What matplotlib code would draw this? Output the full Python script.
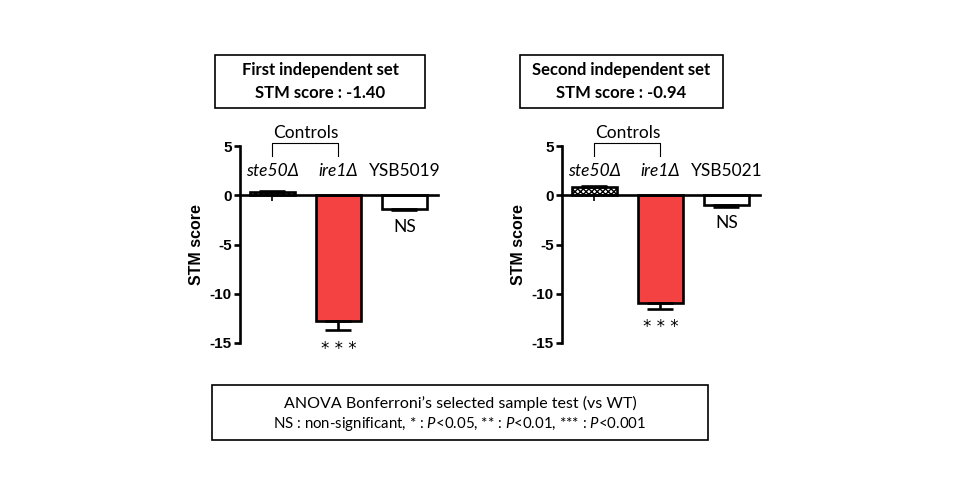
import numpy as np
import matplotlib
matplotlib.use("Agg")
import matplotlib.pyplot as plt
from matplotlib.patches import Rectangle

plt.rcParams['font.family'] = ['Lato', 'DejaVu Sans']
plt.rcParams['mathtext.fontset'] = 'custom'
plt.rcParams['mathtext.rm'] = 'Lato'
plt.rcParams['mathtext.it'] = 'Lato:italic'
plt.rcParams['hatch.linewidth'] = 1.0

# data
strains1 = ['ste50Δ', 'ire1Δ', 'YSB5019']
scores1 = [0.35, -12.8, -1.38]
errs1 = [0.1, 0.9, 0.15]
strains2 = ['ste50Δ', 'ire1Δ', 'YSB5021']
scores2 = [0.8, -10.9, -1.0]
errs2 = [0.12, 0.6, 0.15]
signif = ['', '* * *', 'NS']
italic = [True, True, False]
titles = ['First independent set\nSTM score : -1.40',
          'Second independent set\nSTM score : -0.94']
yticks = [5, 0, -5, -10, -15]

W, H = 960, 500
fig = plt.figure(figsize=(9.6, 5), dpi=100)

def fx(x):
    return x / W

def fy(y):
    return 1 - y / H

#Panels
panels = [(240, 438, 146, 343, strains1, scores1, errs1),
          (562, 760, 146, 343, strains2, scores2, errs2)]

for x0, x1, yt, yb, strains, scores, errs in panels:
    ax = fig.add_axes([fx(x0), fy(yb), fx(x1) - fx(x0), fy(yt) - fy(yb)])
    pos = np.arange(len(strains))
    colors = ['white', '#F44242', 'white']
    hatches = ['xxxxxx', None, None]
    for i in pos:
        ax.bar(i, scores[i], width=0.68, color=colors[i], edgecolor='black',
               linewidth=1.9, hatch=hatches[i], zorder=2)
        lo = errs[i] if scores[i] < 0 else 0
        hi = errs[i] if scores[i] > 0 else 0
        ax.errorbar(i, scores[i], yerr=[[lo], [hi]], fmt='none', ecolor='black',
                    elinewidth=1.9, capsize=9.5, capthick=1.9, zorder=3)
        # category label
        ax.text(i, 2.5, strains[i], ha='center', va='center', fontsize=12.5,
                style='italic' if italic[i] else 'normal')
    # significance marks
    ax.text(1, scores[1] - errs[1] - 1.9, signif[1], ha='center', va='center',
            fontsize=12, family='DejaVu Sans', clip_on=False)
    ax.text(2, scores[2] - errs[2] - 1.7, signif[2], ha='center', va='center',
            fontsize=12.5, clip_on=False)

    #Controls bracket
    ax.plot([0, 0, 1, 1], [4.0, 5.35, 5.35, 4.0], color='black', lw=0.8,
            clip_on=False)
    ax.text(0.5, 6.3, 'Controls', ha='center', va='center', fontsize=12.5)

    ax.set_xlim(-0.49, 2.51)
    ax.set_ylim(-15, 5)
    ax.set_yticks(yticks)
    ax.set_yticklabels([str(t) for t in yticks], family='Liberation Sans',
                       fontweight='bold', fontsize=11)
    ax.set_xticks(pos)
    ax.set_xticklabels([])
    ax.spines['top'].set_visible(False)
    ax.spines['right'].set_visible(False)
    ax.spines['bottom'].set_position(('data', 0))
    ax.spines['left'].set_linewidth(1.9)
    ax.spines['bottom'].set_linewidth(1.9)
    ax.spines['bottom'].set_zorder(4)
    ax.tick_params(axis='y', length=4, width=1.9, pad=2)
    ax.tick_params(axis='x', length=4, width=1.2, direction='out')
    ax.set_ylabel('STM score', family='Liberation Sans', fontweight='bold',
                  fontsize=11.5, labelpad=4)
    ax.patch.set_visible(False)

#Title boxes
boxes = [(215, 425, 55, 108), (520, 723, 55, 108)]
for (bx0, bx1, by0, by1), t in zip(boxes, titles):
    fig.patches.append(Rectangle((fx(bx0), fy(by1)), fx(bx1) - fx(bx0),
                                 fy(by0) - fy(by1), transform=fig.transFigure,
                                 facecolor='white', edgecolor='black', lw=1.2))
    fig.text(fx((bx0 + bx1) / 2), fy((by0 + by1) / 2), t, ha='center',
             va='center', fontsize=12, fontweight='bold', linespacing=1.55)

#Stats box
fig.patches.append(Rectangle((fx(212), fy(440)), fx(708) - fx(212),
                             fy(385) - fy(440), transform=fig.transFigure,
                             facecolor='white', edgecolor='black', lw=1.2))
fig.text(fx(460), fy(403), 'ANOVA Bonferroni\u2019s selected sample test (vs WT)',
         ha='center', va='center', fontsize=11.5)
fig.text(fx(460), fy(424),
         'NS : non-significant, * : $\\mathit{P}$<0.05, ** : $\\mathit{P}$<0.01, '
         '*** : $\\mathit{P}$<0.001',
         ha='center', va='center', fontsize=10.8)

fig.savefig('out.png', dpi=100)
